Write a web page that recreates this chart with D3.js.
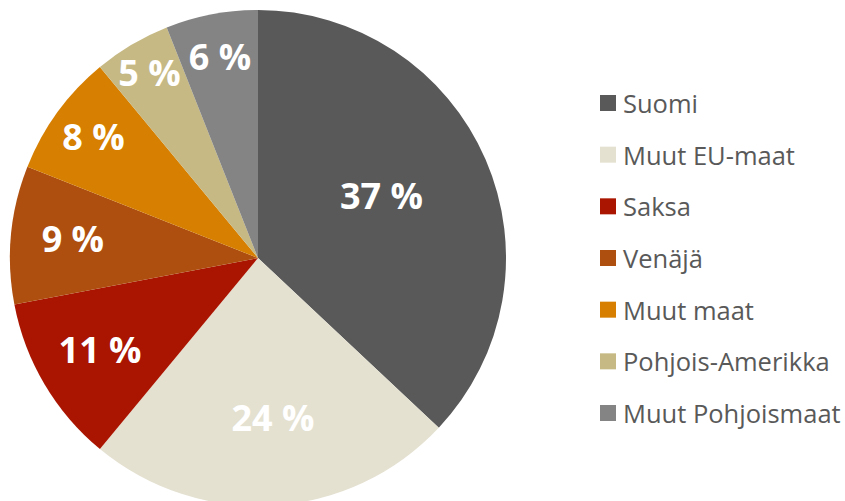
<!DOCTYPE html>
<html>
<head>
<meta charset="utf-8">
<script src="https://cdn.jsdelivr.net/npm/d3@7"></script>
<style>
  html, body { margin: 0; padding: 0; background: #ffffff; }
  svg { display: block; }
</style>
</head>
<body>
<svg id="chart" width="845" height="501"></svg>
<script>
// Data
const categories = ["Suomi", "Muut EU-maat", "Saksa", "Venäjä", "Muut maat", "Pohjois-Amerikka", "Muut Pohjoismaat"];
const values = [37, 24, 11, 9, 8, 5, 6];
const colors = ["#595959", "#E4E1D1", "#A91500", "#AE4F0F", "#D67F00", "#C6B984", "#848484"];

// Layout (label radial placement factors and angle nudges, not data)
const labelRadiusFactor = [0.555, 0.65, 0.74, 0.75, 0.82, 0.86, 0.82];
const labelAngleNudge = [-0.05, -0.03, 0, 0, 0, 0, 0];

const svg = d3.select("#chart");
const cx = 258, cy = 258, r = 248;

const data = categories.map((c, i) => ({ name: c, value: values[i], color: colors[i], lf: labelRadiusFactor[i], an: labelAngleNudge[i] }));

const pie = d3.pie().value(d => d.value).sort(null);
const arc = d3.arc().innerRadius(0).outerRadius(r);
const arcs = pie(data);

const g = svg.append("g").attr("transform", `translate(${cx},${cy})`);

g.selectAll("path.slice")
  .data(arcs)
  .join("path")
  .attr("class", "slice")
  .attr("d", arc)
  .attr("fill", d => d.data.color);

g.selectAll("text.lbl")
  .data(arcs)
  .join("text")
  .attr("class", "lbl")
  .attr("transform", d => {
    const a = (d.startAngle + d.endAngle) / 2 + d.data.an;
    const rr = r * d.data.lf;
    const x = Math.sin(a) * rr, y = -Math.cos(a) * rr - 1.5;
    return `translate(${x},${y})`;
  })
  .attr("text-anchor", "middle")
  .attr("dominant-baseline", "central")
  .attr("font-family", "'Open Sans', sans-serif")
  .attr("font-weight", "bold")
  .attr("font-size", 36)
  .attr("fill", "#ffffff")
  .text(d => d.data.value + " %");

// Legend
const legendY = d3.scalePoint().domain(categories).range([103, 413]);
const lg = svg.append("g");
const items = lg.selectAll("g.item")
  .data(data)
  .join("g")
  .attr("class", "item")
  .attr("transform", d => `translate(600,${legendY(d.name)})`);

items.append("rect")
  .attr("x", 0)
  .attr("y", -8)
  .attr("width", 16)
  .attr("height", 16)
  .attr("fill", d => d.color);

items.append("text")
  .attr("x", 23)
  .attr("y", 0)
  .attr("dominant-baseline", "central")
  .attr("font-family", "'Open Sans', sans-serif")
  .attr("font-size", 25.5)
  .attr("fill", "#595959")
  .text(d => d.name);
</script>
</body>
</html>
